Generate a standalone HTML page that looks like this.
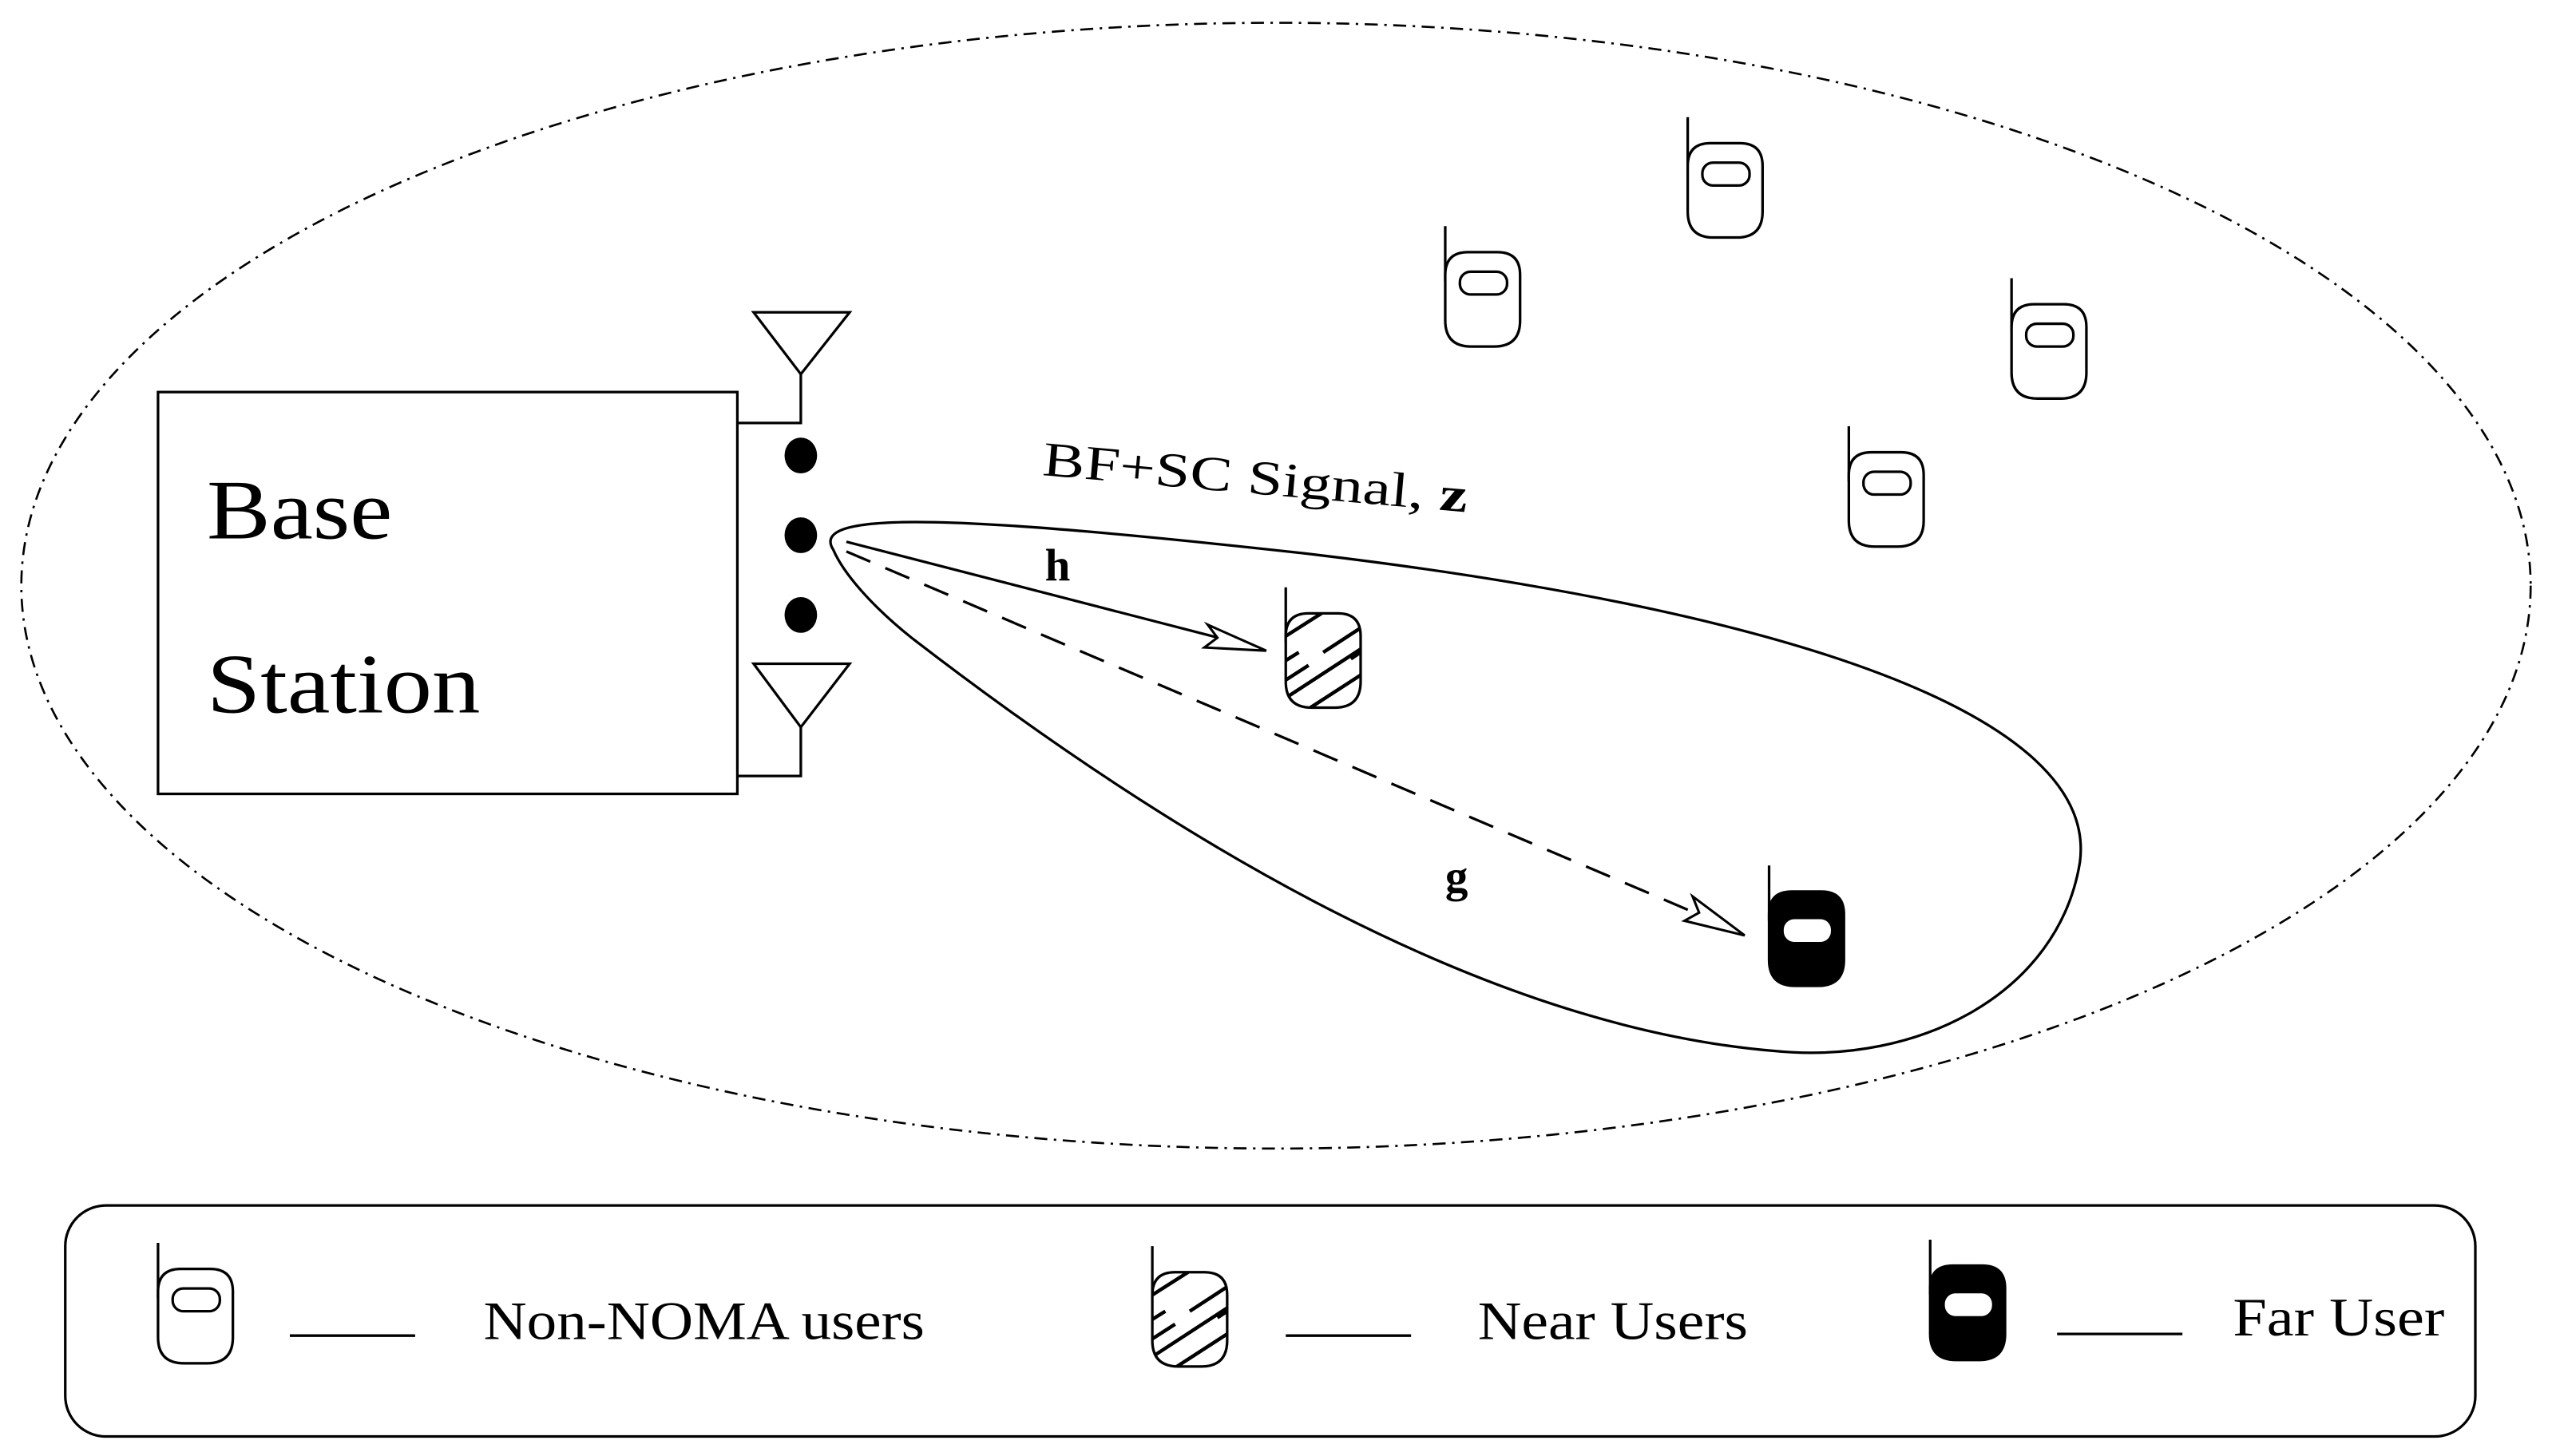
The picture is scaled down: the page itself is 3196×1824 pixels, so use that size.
<!DOCTYPE html>
<html><head><meta charset="utf-8"><style>
html,body{margin:0;padding:0;background:#fff;}
svg{display:block;}
text{font-family:"Liberation Serif",serif;fill:#000;}
</style></head><body>
<svg width="3196" height="1824" viewBox="0 0 1568 895" xmlns="http://www.w3.org/2000/svg">
<defs>
<g id="ph">
<line x1="0" y1="0" x2="0" y2="34" stroke="#000" stroke-width="1.6"/>
<path d="M0,30 Q0,16 14,16 H32 Q46,16 46,30 V58 Q46,74 30,74 H16 Q0,74 0,58 Z" fill="#fff" stroke="#000" stroke-width="1.6"/>
<rect x="9" y="28" width="29" height="14" rx="6.5" fill="none" stroke="#000" stroke-width="1.6"/>
</g>
<clipPath id="bc"><path d="M0,30 Q0,16 14,16 H32 Q46,16 46,30 V58 Q46,74 30,74 H16 Q0,74 0,58 Z"/></clipPath>
<g id="near">
<line x1="0" y1="0" x2="0" y2="34" stroke="#000" stroke-width="1.6"/>
<path d="M0,30 Q0,16 14,16 H32 Q46,16 46,30 V58 Q46,74 30,74 H16 Q0,74 0,58 Z" fill="#fff" stroke="#000" stroke-width="1.6"/>
<g clip-path="url(#bc)" stroke="#000" stroke-width="2.2">
<line x1="0" y1="30" x2="22" y2="16"/>
<line x1="23" y1="40" x2="46" y2="25"/>
<line x1="0" y1="45" x2="8" y2="40"/>
<line x1="40" y1="44" x2="46" y2="40"/>
<line x1="0" y1="57" x2="14" y2="48"/>
<line x1="0" y1="68" x2="46" y2="38"/>
<line x1="12" y1="76" x2="46" y2="54"/>
</g>
</g>
<g id="far">
<line x1="0" y1="0" x2="0" y2="34" stroke="#000" stroke-width="1.6"/>
<path d="M0,30 Q0,16 14,16 H32 Q46,16 46,30 V58 Q46,74 30,74 H16 Q0,74 0,58 Z" fill="#000" stroke="#000" stroke-width="1.6"/>
<rect x="9" y="33" width="29" height="14" rx="6.5" fill="#fff"/>
</g>
</defs>

<ellipse cx="784" cy="360" rx="771" ry="346" fill="none" stroke="#000" stroke-width="1.3" stroke-dasharray="8,4,1.5,4"/>

<rect x="97" y="241" width="356" height="247" fill="none" stroke="#000" stroke-width="1.6"/>
<text x="127" y="331" font-size="52" textLength="114" lengthAdjust="spacingAndGlyphs">Base</text>
<text x="127" y="438" font-size="52" textLength="168" lengthAdjust="spacingAndGlyphs">Station</text>

<polygon points="463,192 522,192 492,230" fill="none" stroke="#000" stroke-width="1.6"/>
<polyline points="492,230 492,260 453,260" fill="none" stroke="#000" stroke-width="1.6"/>
<polygon points="463,408 522,408 492,447" fill="none" stroke="#000" stroke-width="1.6"/>
<polyline points="492,447 492,477 453,477" fill="none" stroke="#000" stroke-width="1.6"/>
<ellipse cx="492" cy="280" rx="10" ry="11"/>
<ellipse cx="492" cy="329" rx="10" ry="11"/>
<ellipse cx="492" cy="378" rx="10" ry="11"/>

<path d="M512,338 C495,312 600,318 800,340 C1100,375 1290,440 1278,530 C1265,610 1180,655 1090,646 C900,630 700,500 560,392 C535,372 518,352 512,338 Z" fill="none" stroke="#000" stroke-width="1.6"/>

<line x1="520" y1="333" x2="768" y2="397" stroke="#000" stroke-width="1.6"/>
<polygon points="778,400 740,398 748,392 742,384" fill="#fff" stroke="#000" stroke-width="1.5"/>
<line x1="520" y1="339" x2="1060" y2="569" stroke="#000" stroke-width="1.6" stroke-dasharray="16,10"/>
<polygon points="1072,575 1035,566 1044,561 1040,551" fill="#fff" stroke="#000" stroke-width="1.5"/>

<text x="640" y="292" font-size="30" transform="rotate(5 640 292)" textLength="262" lengthAdjust="spacingAndGlyphs">BF+SC Signal, <tspan font-weight="bold">z</tspan></text>
<text x="642" y="357" font-size="28" font-weight="bold">h</text>
<text x="888" y="548" font-size="28" font-weight="bold">g</text>

<use href="#ph" x="1037" y="72"/>
<use href="#ph" x="888" y="139"/>
<use href="#ph" x="1236" y="171"/>
<use href="#ph" x="1136" y="262"/>
<use href="#near" x="790" y="361"/>
<use href="#far" x="1087" y="532"/>

<rect x="40" y="741" width="1481" height="142" rx="25" fill="none" stroke="#000" stroke-width="1.6"/>
<use href="#ph" x="97" y="764"/>
<line x1="178" y1="821" x2="255" y2="821" stroke="#000" stroke-width="1.6"/>
<text x="297" y="823" font-size="33" textLength="271" lengthAdjust="spacingAndGlyphs">Non-NOMA users</text>
<use href="#near" x="708" y="766"/>
<line x1="790" y1="821" x2="867" y2="821" stroke="#000" stroke-width="1.6"/>
<text x="908" y="823" font-size="33" textLength="166" lengthAdjust="spacingAndGlyphs">Near Users</text>
<use href="#far" x="1186" y="762"/>
<line x1="1264" y1="820" x2="1341" y2="820" stroke="#000" stroke-width="1.6"/>
<text x="1372" y="821" font-size="33" textLength="130" lengthAdjust="spacingAndGlyphs">Far User</text>
</svg>
</body></html>
